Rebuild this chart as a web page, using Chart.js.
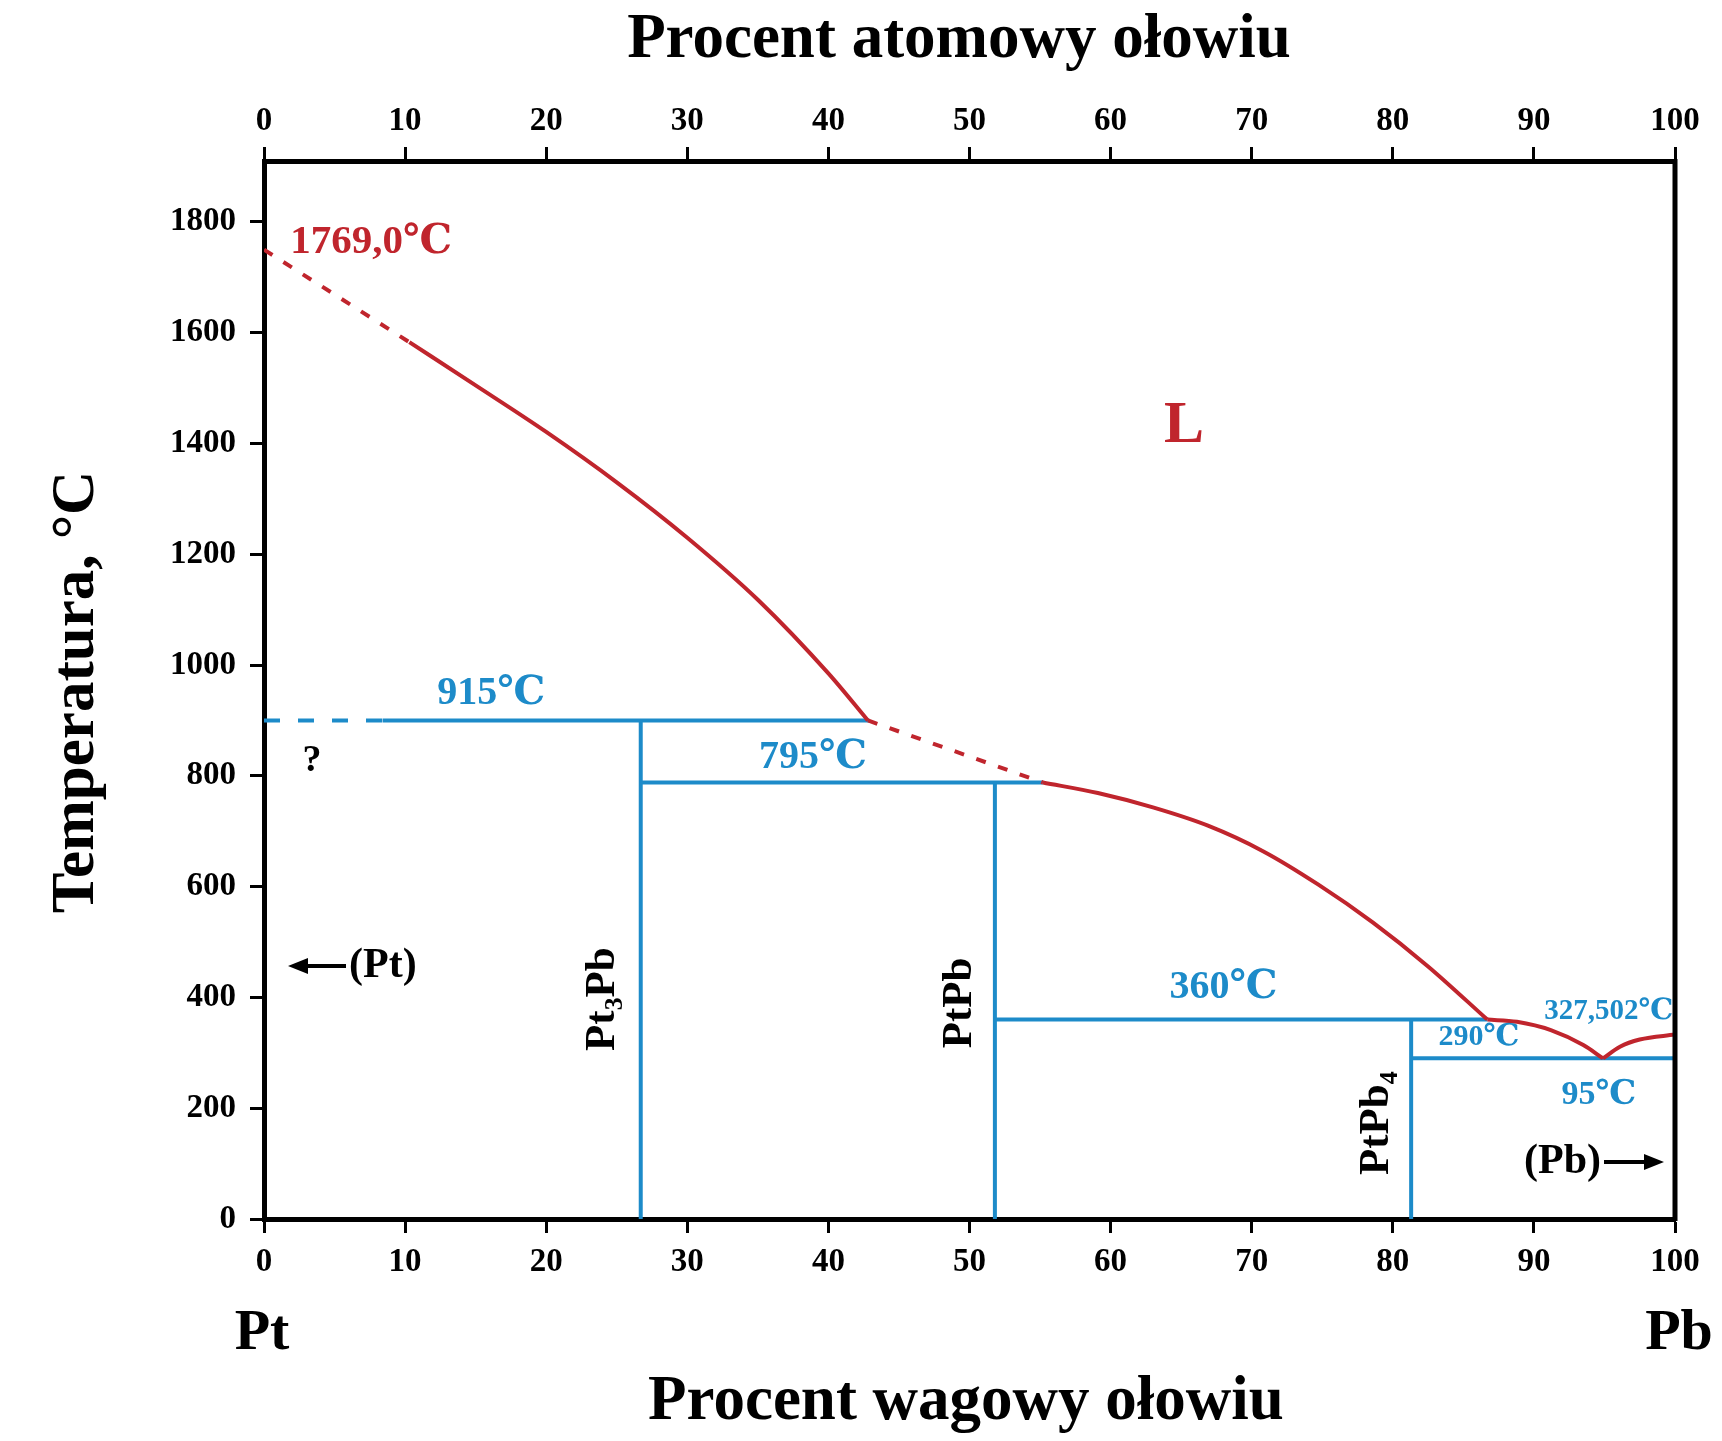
<!DOCTYPE html>
<html>
<head>
<meta charset="utf-8">
<script src="https://cdn.jsdelivr.net/npm/chart.js@4.4.1/dist/chart.umd.min.js"></script>
<style>
  html, body { margin: 0; padding: 0; background: #fff; }
  canvas { display: block; }
</style>
</head>
<body>
<canvas id="diagram" width="1722" height="1441" style="width:1722px;height:1441px"></canvas>
<script>
/* Układ Pt-Pb: temperatura vs procent wagowy ołowiu */

const FONT = '"Liberation Serif", "DejaVu Serif", serif';
const RED = '#c0252d';
const BLUE = '#1d8bc9';

// osie
const wtTicks = [0, 10, 20, 30, 40, 50, 60, 70, 80, 90, 100];
const atTicks = [0, 10, 20, 30, 40, 50, 60, 70, 80, 90, 100];
const tempTicks = [0, 200, 400, 600, 800, 1000, 1200, 1400, 1600, 1800];

// likwidus (czerwony)
const liq1DashWt = [0, 10.3];
const liq1DashT = [1750, 1583];
const liq1Wt = [10.3, 15, 20, 25, 30, 35, 40, 42.8];
const liq1T = [1583, 1505, 1421, 1330, 1230, 1118, 985, 900];
const liq2DashWt = [42.8, 55.2];
const liq2DashT = [900, 788];
const liq2Wt = [55.2, 59.1, 63.0, 66.9, 70.8, 74.7, 78.6, 82.5, 86.7];
const liq2T = [788, 769, 743, 710, 664, 604, 535, 456, 360];
const liq3Wt = [86.7, 88.8, 91.2, 93.5, 94.9];
const liq3T = [360, 356, 341, 314, 290];
const liq4Wt = [94.9, 96.1, 97.5, 100];
const liq4T = [290, 311, 324, 333];

// izotermy i fazy (niebieski)
const isoT = [900, 788, 360, 290];
const isoFrom = [8.4, 26.7, 51.8, 81.3];
const isoTo = [42.9, 55.2, 86.7, 100];
const isoDashWt = [0, 8.4];
const phaseWt = [26.7, 51.8, 81.3];
const phaseTop = [900, 788, 360];

const pts = (xs, ys) => xs.map((x, i) => ({ x, y: ys[i] }));

const line = (data, color, opts = {}) => Object.assign({
    data, showLine: true, borderColor: color, borderWidth: 4,
    pointRadius: 0, fill: false, tension: 0
}, opts);

const datasets = [
    line(pts(liq1DashWt, liq1DashT), RED, { borderDash: [10, 13] }),
    line(pts(liq1Wt, liq1T), RED, { cubicInterpolationMode: 'monotone' }),
    line(pts(liq2DashWt, liq2DashT), RED, { borderDash: [10, 13] }),
    line(pts(liq2Wt, liq2T), RED, { cubicInterpolationMode: 'monotone' }),
    line(pts(liq3Wt, liq3T), RED, { cubicInterpolationMode: 'monotone' }),
    line(pts(liq4Wt, liq4T), RED, { cubicInterpolationMode: 'monotone' }),
    line(pts(isoDashWt, [isoT[0], isoT[0]]), BLUE, { borderDash: [16, 18] })
];
isoT.forEach((t, i) => datasets.push(line(pts([isoFrom[i], isoTo[i]], [t, t]), BLUE)));
phaseWt.forEach((w, i) => datasets.push(line(pts([w, w], [0, phaseTop[i]]), BLUE)));

const setTicks = arr => scale => { scale.ticks = arr.map(v => ({ value: v })); };

const tickFont = { family: FONT, size: 33, weight: 'bold' };

function text(ctx, str, x, y, size, color, rot, align) {
    ctx.save();
    ctx.translate(x, y);
    if (rot) ctx.rotate(rot);
    ctx.font = `bold ${size}px ${FONT}`;
    ctx.fillStyle = color;
    ctx.textAlign = align || 'center';
    ctx.textBaseline = 'middle';
    ctx.fillText(str, 0, 0);
    ctx.restore();
}

// tekst z indeksem dolnym, np. Pt3Pb
function richText(ctx, parts, x, y, size, color, rot) {
    ctx.save();
    ctx.translate(x, y);
    if (rot) ctx.rotate(rot);
    ctx.fillStyle = color;
    ctx.textBaseline = 'middle';
    ctx.textAlign = 'left';
    const fontOf = sub => `bold ${sub ? size * 0.6 : size}px ${FONT}`;
    let total = 0;
    parts.forEach(([s, sub]) => { ctx.font = fontOf(sub); total += ctx.measureText(s).width; });
    let cx = -total / 2;
    parts.forEach(([s, sub]) => {
        ctx.font = fontOf(sub);
        ctx.fillText(s, cx, sub ? size * 0.3 : 0);
        cx += ctx.measureText(s).width;
    });
    ctx.restore();
}

// strzałka pozioma, grot w punkcie x2
function arrow(ctx, x1, x2, y) {
    const dir = Math.sign(x2 - x1);
    ctx.save();
    ctx.strokeStyle = '#000';
    ctx.fillStyle = '#000';
    ctx.lineWidth = 4;
    ctx.beginPath();
    ctx.moveTo(x1, y);
    ctx.lineTo(x2 - dir * 12, y);
    ctx.stroke();
    ctx.beginPath();
    ctx.moveTo(x2, y);
    ctx.lineTo(x2 - dir * 20, y - 8);
    ctx.lineTo(x2 - dir * 20, y + 8);
    ctx.closePath();
    ctx.fill();
    ctx.restore();
}

const annotations = {
    id: 'annotations',
    afterDraw(chart) {
        const { ctx, chartArea: ca, scales } = chart;
        const px = v => scales.x.getPixelForValue(v);
        const py = v => scales.y.getPixelForValue(v);

        // prawa krawędź ramki
        ctx.save();
        ctx.strokeStyle = '#000';
        ctx.lineWidth = 5;
        ctx.beginPath();
        ctx.moveTo(ca.right, ca.top - 2);
        ctx.lineTo(ca.right, ca.bottom + 2);
        ctx.stroke();
        ctx.restore();

        // tytuły osi
        text(ctx, 'Procent atomowy ołowiu', 959, 41, 63, '#000');
        text(ctx, 'Procent wagowy ołowiu', 966, 1403, 63, '#000');
        text(ctx, 'Temperatura, °C', 77, 692, 61, '#000', -Math.PI / 2);
        text(ctx, 'Pt', 262, 1334, 58, '#000');
        text(ctx, 'Pb', 1679, 1334, 58, '#000');

        // opisy na wykresie
        text(ctx, '1769,0℃', px(7.6), py(1763), 41, RED);
        text(ctx, 'L', px(65.2), py(1431), 60, RED);
        text(ctx, '915℃', px(16.1), py(948), 40, BLUE);
        text(ctx, '?', px(3.4), py(827), 38, '#000');
        text(ctx, '795℃', px(38.9), py(832), 40, BLUE);
        text(ctx, '360℃', px(68.0), py(417), 40, BLUE);
        text(ctx, '290℃', px(86.1), py(329), 30, BLUE);
        text(ctx, '327,502℃', px(95.3), py(374), 29, BLUE);
        text(ctx, '95℃', px(94.6), py(224), 34, BLUE);

        text(ctx, '(Pt)', 349, 966, 42, '#000', 0, 'left');
        arrow(ctx, 346, 288, 966);
        text(ctx, '(Pb)', 1601, 1162, 42, '#000', 0, 'right');
        arrow(ctx, 1604, 1664, 1162);

        richText(ctx, [['Pt', 0], ['3', 1], ['Pb', 0]], px(24.0), py(397), 43, '#000', -Math.PI / 2);
        richText(ctx, [['PtPb', 0]], px(49.3), py(390), 43, '#000', -Math.PI / 2);
        richText(ctx, [['PtPb', 0], ['4', 1]], px(78.9), py(173), 43, '#000', -Math.PI / 2);
    }
};

const axisCommon = {
    type: 'linear',
    grid: { drawOnChartArea: false, drawTicks: true, tickLength: 14, tickWidth: 3, tickColor: '#000' },
    border: { display: true, width: 5, color: '#000' },
    ticks: { color: '#000', font: tickFont, maxRotation: 0, callback: v => String(v) }
};

new Chart(document.getElementById('diagram'), {
    type: 'scatter',
    data: { datasets },
    options: {
        responsive: false,
        animation: false,
        layout: { padding: { left: 0, right: 47, top: 0, bottom: 0 } },
        plugins: { legend: { display: false }, tooltip: { enabled: false } },
        scales: {
            x: {
                ...axisCommon, position: 'bottom', min: 0, max: 100,
                ticks: { ...axisCommon.ticks, padding: 10 },
                afterBuildTicks: setTicks(wtTicks),
                afterFit: s => { s.height = 222; }
            },
            x2: {
                ...axisCommon, position: 'top', min: 0, max: 100,
                ticks: { ...axisCommon.ticks, padding: 6 },
                afterBuildTicks: setTicks(atTicks),
                afterFit: s => { s.height = 161; }
            },
            y: {
                ...axisCommon, position: 'left', min: 0, max: 1910,
                ticks: { ...axisCommon.ticks, padding: 14 },
                afterBuildTicks: setTicks(tempTicks),
                afterFit: s => { s.width = 264; }
            }
        }
    },
    plugins: [annotations]
});
</script>
</body>
</html>
